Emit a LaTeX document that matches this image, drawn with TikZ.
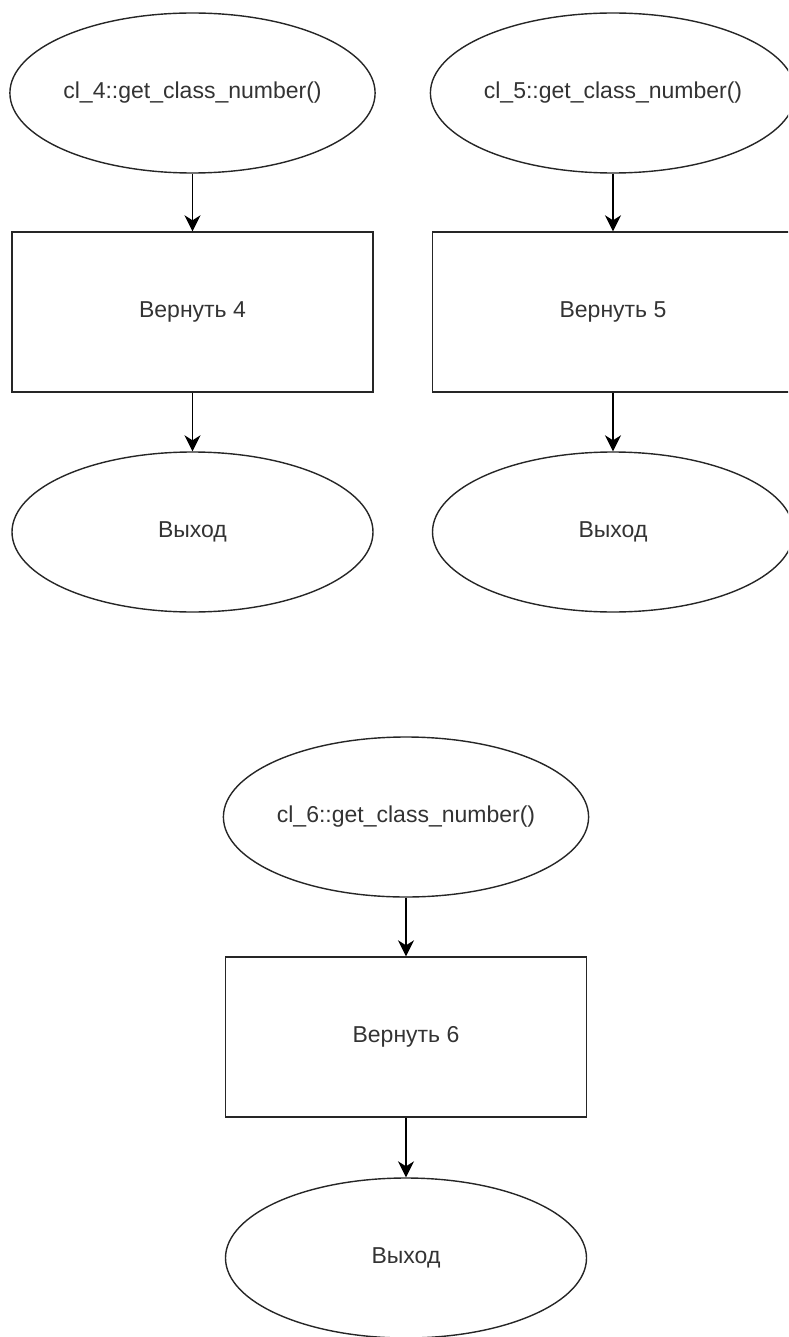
\documentclass[tikz,border=0pt]{standalone}
\usepackage{fontspec}
\setmainfont{Liberation Sans}
\usetikzlibrary{shapes.geometric,arrows.meta}
\begin{document}
\begin{tikzpicture}[x=1pt,y=-1pt,
  base/.style={draw=black!85,line width=1.4pt,minimum width=361pt,minimum height=160pt,
    inner sep=0pt,text=black!80,font=\fontsize{23}{27}\selectfont},
  term/.style={base,ellipse},
  proc/.style={base,rectangle},
  flow/.style={-{Stealth[length=16pt,width=16pt,inset=5pt]},line width=1.4pt,draw=black}]
\useasboundingbox (0,0) rectangle (788,1337);
\clip (0,0) rectangle (788,1337);

% class 4
\node[term] (s4) at (192.5,93)  {cl\_4::get\_class\_number()};
\node[proc] (r4) at (192.5,312) {Вернуть 4};
\node[term] (e4) at (192.5,532) {Выход};

% class 5
\node[term] (s5) at (613,93)  {cl\_5::get\_class\_number()};
\node[proc] (r5) at (613,312) {Вернуть 5};
\node[term] (e5) at (613,532) {Выход};

% class 6
\node[term] (s6) at (406,817)  {cl\_6::get\_class\_number()};
\node[proc] (r6) at (406,1037) {Вернуть 6};
\node[term] (e6) at (406,1258) {Выход};

\draw[flow] (s4) -- (r4);
\draw[flow] (r4) -- (e4);
\draw[flow] (s5) -- (r5);
\draw[flow] (r5) -- (e5);
\draw[flow] (s6) -- (r6);
\draw[flow] (r6) -- (e6);
\end{tikzpicture}
\end{document}
